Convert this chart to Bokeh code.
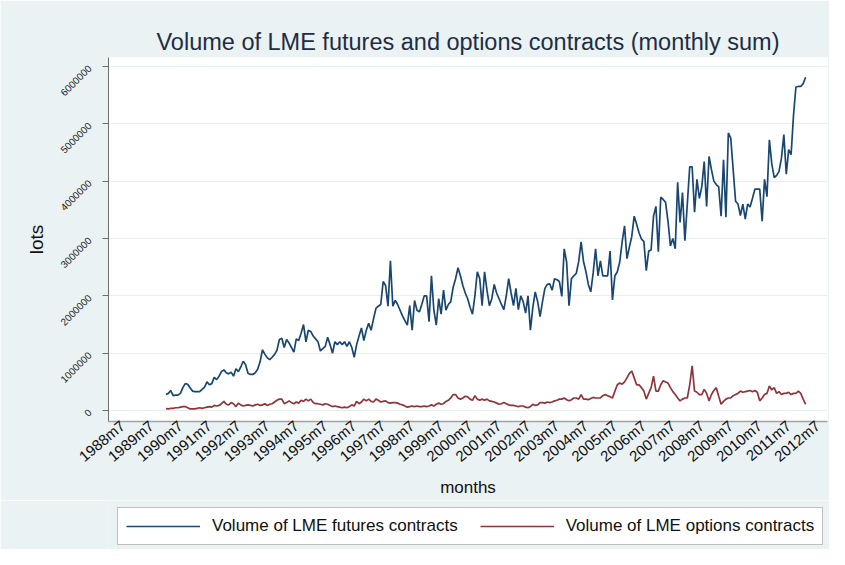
import math
from bokeh.plotting import figure
from bokeh.layouts import column
from bokeh.models import Range1d, FixedTicker, Legend, LegendItem, ColumnDataSource
from bokeh.embed import file_html
from bokeh.resources import INLINE

TITLE = "Volume of LME futures and options contracts (monthly sum)"
X_LABEL = "months"
Y_LABEL = "lots"
FUTURES_NAME = "Volume of LME futures contracts"
OPTIONS_NAME = "Volume of LME options contracts"

start_year = 1990
start_month = 1

# monthly sums, thousands of lots (1990m1 .. 2012m2)
futures_k = [
    280, 300, 350, 260, 270, 270, 300, 400, 470, 460, 400, 340,
    330, 330, 330, 370, 410, 500, 450, 470, 580, 540, 600, 680,
    710, 660, 640, 670, 600, 730, 680, 760, 860, 800, 650, 630,
    630, 660, 720, 850, 1060, 980, 920, 890, 930, 980, 1050, 1240,
    1260, 1100, 1240, 1180, 1100, 1020, 1250, 1220, 1350, 1500, 1200, 1400,
    1380, 1300, 1250, 1200, 1040, 1080, 1120, 1280, 1150, 1000, 1200, 1150,
    1200, 1150, 1200, 1120, 1200, 1100, 930, 1150, 1300, 1440, 1220, 1400,
    1520, 1400, 1600, 1780, 1820, 1850, 2250, 2180, 1820, 2610, 1820, 1920,
    1850, 1750, 1650, 1570, 1490, 1830, 1400, 1920, 1750, 1720, 1850, 2000,
    2000, 1550, 2350, 1750, 1490, 1950, 1680, 2100, 1750, 1850, 1900, 2150,
    2300, 2490, 2350, 2180, 2050, 1950, 1800, 1680, 2000, 2420, 2300, 1830,
    2420, 2100, 1830, 1950, 2200, 2050, 1950, 1850, 1760, 2000, 2300, 2050,
    1830, 2130, 1760, 2000, 1900, 1700, 2000, 1400, 1800, 2070, 1900, 1640,
    1900, 2130, 2200, 2210, 2100, 2300, 2280, 2250, 1990, 2820, 2590, 1830,
    2300, 2350, 2390, 2600, 2940, 2600, 2420, 2200, 2070, 2400, 2820, 2350,
    2610, 2350, 2350, 2350, 2780, 1930, 2350, 2420, 2590, 2940, 3220, 2650,
    2850, 3040, 3390, 3250, 3100, 2990, 2950, 2440, 2780, 2800, 3390, 3560,
    2770, 3720, 3680, 3630, 3300, 2870, 3000, 2820, 3980, 3280, 3800, 2960,
    3600, 4250, 4250, 3460, 4030, 3700, 3900, 4340, 3560, 4430, 4200, 4000,
    3940, 3900, 3390, 4370, 3370, 4840, 4750, 4200, 3650, 3600, 3400, 3600,
    3340, 3600, 3550, 3700, 3860, 3860, 3860, 3300, 4030, 3730, 4720, 4300,
    4060, 4100, 4170, 4400, 4810, 4120, 4550, 4460, 5150, 5640, 5650, 5650,
    5700, 5810,
]

options_k = [
    35, 30, 40, 40, 50, 50, 60, 70, 70, 50, 30, 30,
    30, 40, 50, 40, 50, 60, 70, 60, 90, 80, 90, 120,
    160, 110, 100, 140, 120, 70, 130, 100, 80, 90, 100, 90,
    80, 100, 110, 90, 100, 120, 90, 110, 120, 150, 180, 200,
    200, 120, 140, 170, 140, 120, 150, 130, 180, 160, 200, 170,
    200, 140, 120, 120, 110, 100, 120, 110, 90, 70, 80, 70,
    60, 50, 60, 50, 70, 100, 80, 160, 120, 150, 200, 170,
    200, 160, 150, 200, 180, 150, 160, 170, 140, 130, 140, 140,
    130, 110, 100, 80, 60, 70, 80, 70, 80, 70, 70, 80,
    70, 80, 100, 80, 110, 130, 110, 120, 160, 180, 220, 280,
    280, 220, 200, 220, 250, 240, 200, 180, 260, 200, 180, 200,
    180, 200, 170, 160, 150, 130, 110, 120, 140, 120, 100, 90,
    90, 80, 70, 80, 80, 60, 50, 70, 110, 90, 100, 140,
    140, 130, 150, 140, 150, 170, 180, 200, 200, 220, 190, 170,
    190, 220, 220, 200, 280, 200, 200, 190, 210, 230, 220, 220,
    220, 260, 280, 260, 240, 220, 340, 450, 480, 460, 500, 570,
    650, 690, 570, 450, 450, 400, 340, 200, 300, 400, 600, 340,
    340, 450, 520, 500, 480, 400, 330, 280, 220, 170, 200, 220,
    220, 450, 780, 340, 320, 280, 280, 370, 300, 170, 280, 350,
    400, 250, 110, 160, 200, 220, 220, 260, 280, 300, 340, 320,
    330, 340, 350, 330, 350, 320, 170, 220, 280, 300, 430, 360,
    400, 300, 330, 280, 300, 300, 320, 280, 300, 300, 340, 300,
    200, 110,
]

x_tick_labels = ["1988m7", "1989m7", "1990m7", "1991m7", "1992m7", "1993m7",
                 "1994m7", "1995m7", "1996m7", "1997m7", "1998m7", "1999m7",
                 "2000m7", "2001m7", "2002m7", "2003m7", "2004m7", "2005m7",
                 "2006m7", "2007m7", "2008m7", "2009m7", "2010m7", "2011m7",
                 "2012m7"]
y_tick_values = [0, 1000000, 2000000, 3000000, 4000000, 5000000, 6000000]
y_tick_labels = ["0", "1000000", "2000000", "3000000", "4000000", "5000000", "6000000"]


def month_pos(year, month):
    return year + (month - 1) / 12.0


months = [month_pos(start_year + (start_month - 1 + i) // 12, (start_month - 1 + i) % 12 + 1)
          for i in range(len(futures_k))]
futures = [v * 1000 for v in futures_k]
options = [v * 1000 for v in options_k]

x_tick_pos = [month_pos(int(s.split("m")[0]), int(s.split("m")[1])) for s in x_tick_labels]

src = ColumnDataSource(dict(t=months, fut=futures, opt=options))

FONT = "Liberation Sans"
BG = "#eaf2f3"
FUT_COLOR = "#1a476f"
OPT_COLOR = "#90353b"

W = 829
fig = figure(width=W, height=500, output_backend="svg", toolbar_location=None,
             x_range=Range1d(1988.017, 2012.84), y_range=Range1d(-190000, 6155000),
             min_border_left=108, min_border_right=2, min_border_top=57, min_border_bottom=76)

fig.border_fill_color = BG
fig.background_fill_color = "white"
fig.outline_line_color = None

fig.title.text = TITLE
fig.title.align = "center"
fig.title.text_font = FONT
fig.title.text_font_size = "23.5px"
fig.title.text_font_style = "normal"
fig.title.text_color = "#1e2d44"
fig.title.standoff = 5

r1 = fig.line("t", "fut", source=src, line_color=FUT_COLOR, line_width=1.7)
r2 = fig.line("t", "opt", source=src, line_color=OPT_COLOR, line_width=1.7)

# x axis
xa = fig.xaxis[0]
xa.ticker = FixedTicker(ticks=x_tick_pos)
xa.major_label_overrides = {pos: lab for pos, lab in zip(x_tick_pos, x_tick_labels)}
xa.major_label_orientation = math.radians(40)
xa.major_label_text_font = FONT
xa.major_label_text_font_size = "15px"
xa.major_label_text_color = "#111111"
xa.major_label_standoff = 2
xa.major_tick_out = 0
xa.major_tick_in = 0
xa.minor_tick_out = 0
xa.minor_tick_in = 0
xa.axis_line_color = "#a3a3a3"
xa.axis_line_width = 1.5
xa.axis_label = X_LABEL
xa.axis_label_text_font = FONT
xa.axis_label_text_font_size = "17px"
xa.axis_label_text_font_style = "normal"
xa.axis_label_text_color = "#111111"
xa.axis_label_standoff = 4

# y axis
ya = fig.yaxis[0]
ya.ticker = FixedTicker(ticks=y_tick_values)
ya.major_label_overrides = {v: lab for v, lab in zip(y_tick_values, y_tick_labels)}
ya.major_label_orientation = math.pi / 4
ya.major_label_text_font = FONT
ya.major_label_text_font_size = "10px"
ya.major_label_text_color = "#222222"
ya.major_label_standoff = 13
ya.major_tick_out = 6
ya.major_tick_in = 0
ya.minor_tick_out = 0
ya.minor_tick_in = 0
ya.major_tick_line_color = "#6e6e6e"
ya.axis_line_color = "#6e6e6e"
ya.axis_label = Y_LABEL
ya.axis_label_text_font = FONT
ya.axis_label_text_font_size = "19px"
ya.axis_label_text_font_style = "normal"
ya.axis_label_text_color = "#111111"
ya.axis_label_standoff = 6

fig.xgrid.grid_line_color = None
fig.ygrid.ticker = FixedTicker(ticks=y_tick_values)
fig.ygrid.grid_line_color = "#e6eef0"
fig.ygrid.grid_line_width = 1.2

# legend strip below the chart (its frame is aligned with the chart's frame)
leg = figure(width=W, height=49, output_backend="svg", toolbar_location=None,
             x_range=Range1d(0, 1), y_range=Range1d(0, 1),
             x_axis_location=None, y_axis_location=None, min_border=0)
leg.border_fill_color = BG
leg.background_fill_color = BG
leg.outline_line_color = None
leg.grid.grid_line_color = None
l1 = leg.line(x=[-5, -4], y=[-5, -4], line_color=FUT_COLOR, line_width=1.7)
l2 = leg.line(x=[-5, -4], y=[-5, -4], line_color=OPT_COLOR, line_width=1.7)

legend = Legend(items=[LegendItem(label=FUTURES_NAME, renderers=[l1]),
                       LegendItem(label=OPTIONS_NAME, renderers=[l2])],
                orientation="horizontal", location=(9, 4))
legend.label_text_font = FONT
legend.label_text_font_size = "17px"
legend.label_text_color = "#111111"
legend.glyph_width = 74
legend.label_standoff = 12
legend.spacing = 22
legend.padding = 8
legend.margin = 0
legend.border_line_color = "#808080"
legend.border_line_width = 1
legend.background_fill_color = "white"
legend.background_fill_alpha = 1.0
leg.add_layout(legend, "center")

p = column(fig, leg, spacing=0)

open("out.html", "w").write(file_html(p, INLINE))
